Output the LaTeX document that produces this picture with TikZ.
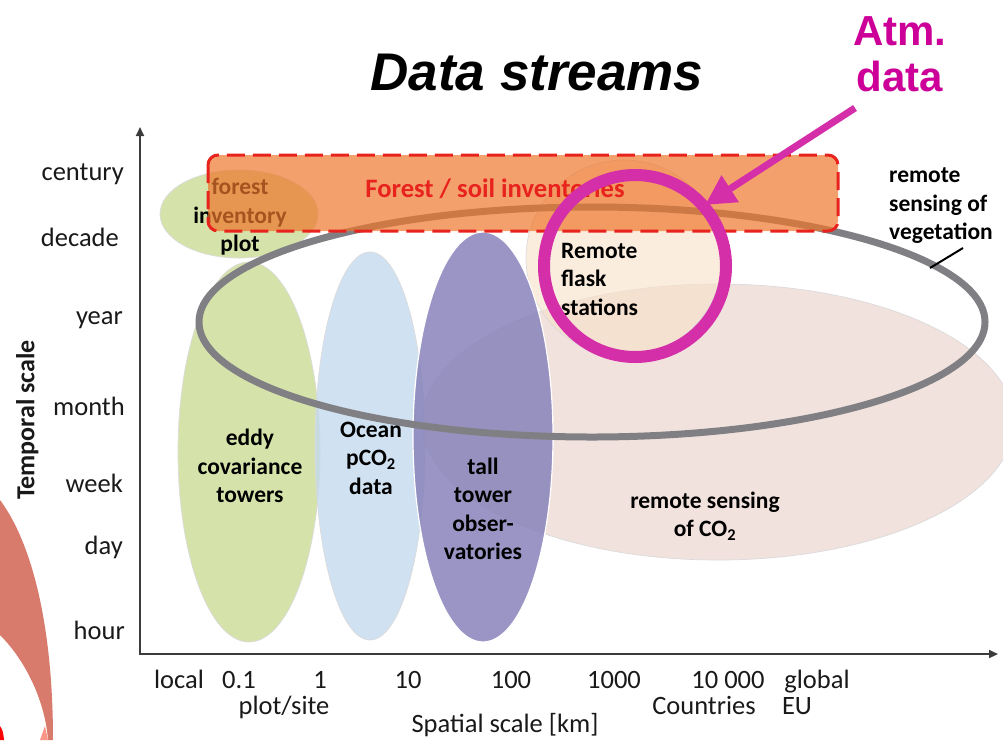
\documentclass[tikz,border=0pt]{standalone}
\usepackage{fontspec}
\setmainfont{Carlito}
\newfontfamily\headfont{Liberation Sans}
\usetikzlibrary{arrows.meta}

\definecolor{axisgray}{RGB}{60,60,60}
\definecolor{labelblack}{RGB}{25,25,25}
\definecolor{greenfill}{RGB}{185,207,113}
\definecolor{bluefill}{RGB}{196,217,237}
\definecolor{purplefill}{RGB}{136,131,186}
\definecolor{pinkfill}{RGB}{242,226,221}
\definecolor{peachfill}{RGB}{248,225,200}
\definecolor{rimgray}{RGB}{128,128,132}
\definecolor{orangefill}{RGB}{239,119,45}
\definecolor{dashred}{RGB}{232,35,30}
\definecolor{magentaline}{RGB}{212,46,168}
\definecolor{magentatext}{RGB}{204,0,153}
\definecolor{salmon}{RGB}{216,122,108}
\definecolor{salmonlight}{RGB}{250,150,135}

\begin{document}
\begin{tikzpicture}[x=1pt,y=-1pt,
  blob/.style={line width=0.7pt, draw=black!14},
  ticklabel/.style={font=\fontsize{26.5}{30}\selectfont, text=labelblack, inner sep=0pt},
  tag/.style={font=\fontsize{23.5}{28.5}\selectfont\bfseries, text=black, align=center, inner sep=0pt},
  axisline/.style={axisgray, line width=2pt, {Triangle[length=9pt,width=8pt]}-{Triangle[length=9pt,width=8pt]}},
]
\useasboundingbox (0,0) rectangle (1003,740);

% corner ornament, bottom left
\fill[salmon] (0,500) .. controls (30,540) and (53,620) .. (53,740) -- (48,740)
  .. controls (45,700) and (25,660) .. (0,635) -- cycle;
\fill[salmonlight] (40,740) .. controls (42,733) .. (45,726) -- (48,740) -- cycle;
\fill[red] (0,726) .. controls (3,731) .. (4,740) -- (0,740) -- cycle;

% title and call-out
\node[font=\headfont\bfseries\itshape\fontsize{53}{60}\selectfont, anchor=base, inner sep=0pt] (title) at (537,90) {Data streams};
\node[font=\headfont\bfseries\fontsize{42}{46}\selectfont, text=magentatext, anchor=base, inner sep=0pt] (atm) at (900,45) {Atm.};
\node[font=\headfont\bfseries\fontsize{42}{46}\selectfont, text=magentatext, anchor=base, inner sep=0pt] (atmdata) at (900,91) {data};

% data-stream regions
\path[blob, fill=pinkfill] (718,422) ellipse [x radius=296, y radius=138];
\path[blob, fill=peachfill, fill opacity=0.6] (624,258) ellipse [x radius=98, y radius=98];
\path[blob, fill=greenfill, fill opacity=0.6] (239,214) ellipse [x radius=79, y radius=44];
\path[blob, fill=greenfill, fill opacity=0.6] (249,452) ellipse [x radius=71, y radius=190];
\path[blob, fill=bluefill, fill opacity=0.8] (370,446) ellipse [x radius=55, y radius=194];
\path[draw=white, line width=1.2pt, fill=purplefill, fill opacity=0.85] (483,437) ellipse [x radius=70, y radius=205];

% remote sensing of vegetation ring
\draw[rimgray, line width=7pt] (592,322) ellipse [x radius=393, y radius=115];

% forest inventory plot label (lies under the inventories band)
\node[tag] (forestplot) at (240,217) {forest\\inventory\\plot};

% forest / soil inventories band
\draw[dashred, line width=3pt, dash pattern=on 18pt off 8pt, fill=orangefill, fill opacity=0.7,
  rounded corners=10pt] (208,155) rectangle (838,231);
\node[font=\fontsize{26.6}{30}\selectfont\bfseries, text=dashred, anchor=base, inner sep=0pt] (forestsoil) at (495,197) {Forest / soil inventories};

% region labels
\node[tag] (eddy) at (250,466) {eddy\\covariance\\towers};
\node[tag] (ocean) at (371,458) {Ocean\\pCO\textsubscript{2}\\data};
\node[tag] (tall) at (483,509) {tall\\tower\\obser-\\vatories};
\node[tag] (co2) at (705,516) {remote sensing\\of CO\textsubscript{2}};
\node[tag, align=left, anchor=west] (flask) at (561,279) {Remote\\flask\\stations};
\node[tag, align=left, anchor=west] (vegetation) at (889,206) {remote\\sensing of\\vegetation};

% pointer to the vegetation ring
\coordinate (vegtip) at (930,268);
\coordinate (vegtail) at (963,248);
\draw[black, line width=2pt] (vegtip) -- (vegtail);

% atmospheric data highlight
\draw[magentaline, line width=12pt] (635,266) circle [radius=91];
\coordinate (atmtail) at (855,108);
\coordinate (atmtip) at (705,205);
\draw[magentaline, line width=7pt, -{Triangle[length=30pt,width=30pt]}] (atmtail) -- (atmtip);

% axes
\coordinate (origin) at (140,654);
\coordinate (ytop) at (140,127);
\coordinate (xend) at (998,654);
\draw[axisline] (ytop) -- (origin) -- (xend);

% temporal ticks
\node[ticklabel, anchor=mid east] (century) at (124,178) {century};
\node[ticklabel, anchor=mid east] (decade) at (119,244) {decade};
\node[ticklabel, anchor=mid east] (year) at (123,322) {year};
\node[ticklabel, anchor=mid east] (month) at (125,413) {month};
\node[ticklabel, anchor=mid east] (week) at (123,490) {week};
\node[ticklabel, anchor=mid east] (day) at (123,552) {day};
\node[ticklabel, anchor=mid east] (hour) at (125,637) {hour};
\node[ticklabel, font=\fontsize{26}{30}\selectfont\bfseries, rotate=90, anchor=mid] (temporal) at (32,420) {Temporal scale};

% spatial ticks
\node[ticklabel, anchor=base] (local) at (179,688) {local};
\node[ticklabel, anchor=base] (tenth) at (239,688) {0.1};
\node[ticklabel, anchor=base] (one) at (320,688) {1};
\node[ticklabel, anchor=base] (ten) at (408,688) {10};
\node[ticklabel, anchor=base] (hundred) at (511,688) {100};
\node[ticklabel, anchor=base] (thousand) at (614,688) {1000};
\node[ticklabel, anchor=base] (tenthousand) at (728,688) {10 000};
\node[ticklabel, anchor=base] (global) at (817,688) {global};
\node[ticklabel, anchor=base] (plotsite) at (284,714) {plot/site};
\node[ticklabel, anchor=base] (countries) at (704,714) {Countries};
\node[ticklabel, anchor=base] (eu) at (797,714) {EU};
\node[ticklabel, anchor=base] (spatial) at (505,732) {Spatial scale [km]};
\end{tikzpicture}
\end{document}
